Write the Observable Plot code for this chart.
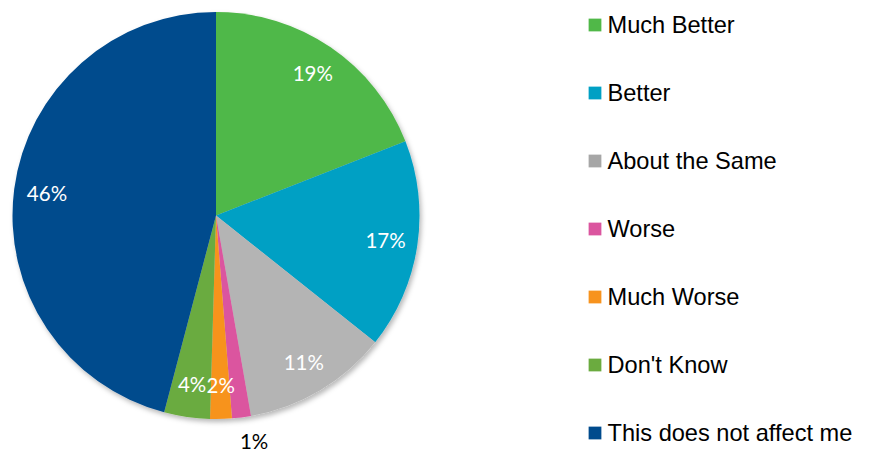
<!DOCTYPE html>
<html><head><meta charset="utf-8">
<script src="https://cdn.jsdelivr.net/npm/d3@7"></script>
<script src="https://cdn.jsdelivr.net/npm/@observablehq/plot@0.6"></script>
<style>body{margin:0;background:#fff}</style>
</head><body><div id="chart"></div>
<script>
const categories = ["Much Better","Better","About the Same","Worse","Much Worse","Don't Know","This does not affect me"];
const values = [19.05, 16.65, 11.55, 1.5, 1.72, 3.63, 45.9];
const labels = ["19%","17%","11%","1%","2%","4%","46%"];
const colors = ["#50b848","#00a0c4","#a6a6a6","#db559f","#f7931e","#6bab3f","#004b8d"];

const data = categories.map((c, i) => ({category: c, value: values[i], label: labels[i], color: colors[i], i}));

const W = 870, H = 453, cx = 216, cy = 215.5, R = 203.5;
const arcs = d3.pie().sort(null).value(d => d.value)(data);
const arcGen = d3.arc().innerRadius(0).outerRadius(R);

// label positions from slice mid-angles
const labelData = arcs.map(a => {
  const mid = (a.startAngle + a.endAngle) / 2;
  const outside = a.data.value < 1.6;
  const r = outside ? R * 1.12 : R * 0.84;
  return {label: a.data.label, x: cx + r * Math.sin(mid), y: cy - r * Math.cos(mid), outside};
});

function pieMark(index, scales, values, dimensions) {
  const g = d3.create("svg:g");
  const defs = g.append("defs");
  const f = defs.append("filter").attr("id", "shadow").attr("x", "-10%").attr("y", "-10%").attr("width", "125%").attr("height", "125%");
  f.append("feDropShadow").attr("dx", 2).attr("dy", 3).attr("stdDeviation", 2.5).attr("flood-color", "#000").attr("flood-opacity", 0.28);
  const lg = defs.append("linearGradient").attr("id", "grayGrad").attr("gradientUnits", "userSpaceOnUse")
    .attr("x1", 0).attr("y1", scales.y(cy)).attr("x2", 0).attr("y2", scales.y(cy + R));
  lg.append("stop").attr("offset", 0).attr("stop-color", "#b4b4b4");
  lg.append("stop").attr("offset", 1).attr("stop-color", "#939393");
  const pg = g.append("g").attr("transform", `translate(${scales.x(cx)},${scales.y(cy)})`).attr("filter", "url(#shadow)");
  pg.selectAll("path").data(arcs).join("path")
    .attr("d", arcGen)
    .attr("fill", d => d.data.category === "About the Same" ? "url(#grayGrad)" : scales.color(d.data.category));
  return g.node();
}

const labelStyle = {
  x: "x", y: "y", text: "label",
  fontSize: 20.5, fontFamily: "Lato, 'Open Sans', sans-serif",
  textAnchor: "middle", lineAnchor: "middle"
};

const plot = Plot.plot({
  width: W,
  height: H,
  margin: 0,
  x: {domain: [0, W], range: [0, W], axis: null},
  y: {domain: [0, H], range: [0, H], axis: null},
  color: {domain: categories, range: colors},
  marks: [
    pieMark,
    Plot.text(labelData.filter(d => !d.outside), {...labelStyle, fill: "#fff"}),
    Plot.text(labelData.filter(d => d.outside), {...labelStyle, fill: "#000", dx: 9}),
    Plot.dot(data, {
      x: () => 594.5, y: d => 24.5 + d.i * 68,
      symbol: "square", r: 7.2, fill: "category", stroke: null
    }),
    Plot.text(data, {
      x: () => 607, y: d => 25 + d.i * 68, text: "category",
      textAnchor: "start", lineAnchor: "middle",
      fontSize: 23.6, fontFamily: "'Liberation Sans', Arial, sans-serif", fill: "#000"
    })
  ]
});
document.getElementById("chart").appendChild(plot);
</script>
</body></html>
